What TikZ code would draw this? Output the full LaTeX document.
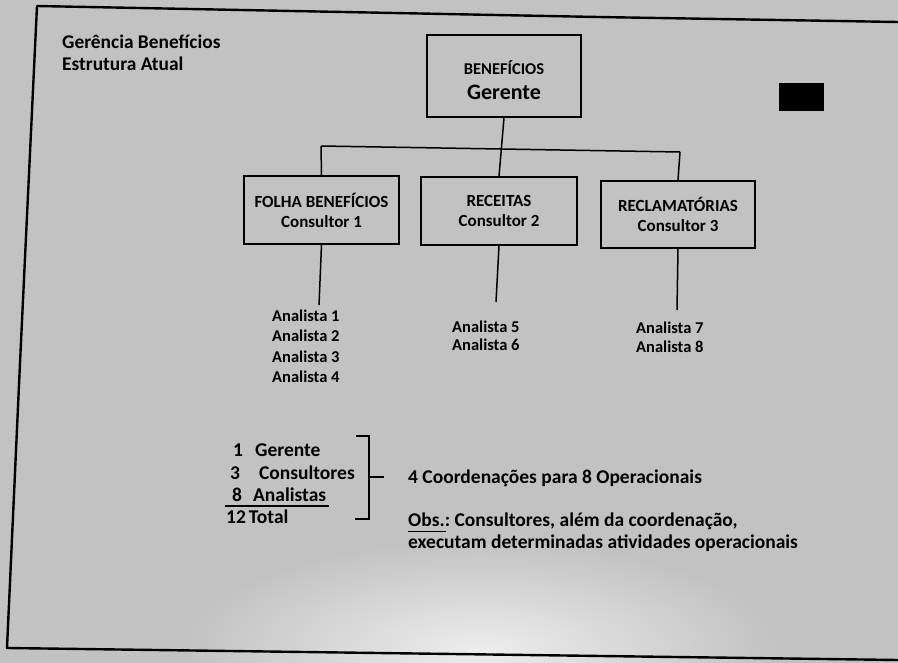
\documentclass[tikz,border=0pt]{standalone}
\usepackage{fontspec}
\setmainfont{Carlito}
\frenchspacing
\begin{document}
\begin{tikzpicture}[x=1pt,y=-1pt,
  frame/.style={line width=2.4pt, line join=round},
  box/.style={draw, line width=1.8pt, inner sep=0pt, align=center},
  conn/.style={line width=1.5pt},
  txt/.style={inner sep=0pt, anchor=west, font=\fontsize{19.5}{22}\selectfont\bfseries},
  ttl/.style={inner sep=0pt, anchor=west, font=\fontsize{19.4}{22}\selectfont\bfseries},
  ana/.style={inner sep=0pt, anchor=west, font=\fontsize{16.5}{20}\selectfont\bfseries},
  boxfont/.style={font=\fontsize{17}{20}\selectfont\bfseries}]
\useasboundingbox (0,0) rectangle (898,663);
\fill[black!24] (0,0) rectangle (898,663);
\begin{scope}
\clip (0,540) rectangle (898,663);
\shade[inner color=black!7, outer color=black!24] (480,650) ellipse [x radius=300pt, y radius=110pt];
\end{scope}
% outer frame (scanned, slightly skewed)
\draw[frame] (898,22) -- (598,17) -- (37,6) -- (20,363) -- (7,648) -- (898,660);
% title
\node[ttl] (t1) at (62,42) {Gerência Benefícios};
\node[ttl] (t2) at (62,64) {Estrutura Atual};
% manager box
\node[box, minimum width=154pt, minimum height=82pt] (g) at (504,76) {};
\node[inner sep=0pt, font=\fontsize{16.5}{18}\selectfont\bfseries] (gt1) at (504,68) {BENEFÍCIOS};
\node[inner sep=0pt, font=\fontsize{22}{24}\selectfont\bfseries] (gt2) at (504,92) {Gerente};
% black square
\node[fill=black, inner sep=0pt, minimum width=45pt, minimum height=28pt] (sq) at (801.5,97) {};
% consultant boxes
\node[box, boxfont, minimum width=155pt, minimum height=68pt] (b1) at (321.5,210) {FOLHA BENEFÍCIOS\\Consultor 1};
\node[box, boxfont, minimum width=156pt, minimum height=68pt] (b2) at (499,211) {RECEITAS\\Consultor 2};
\node[box, boxfont, minimum width=154pt, minimum height=67pt] (b3) at (678,214.5) {RECLAMATÓRIAS\\Consultor 3};
% connectors
\coordinate (hl) at (321,146);
\coordinate (hr) at (680,152);
\draw[conn] (hl) -- (hr);
\draw[conn] (g.south) -- (b2.north);
\draw[conn] (hl) -- (b1.north);
\draw[conn] (hr) -- (b3.north);
\coordinate (d1) at (319,305);
\coordinate (d2) at (496,302);
\coordinate (d3) at (677,310);
\draw[conn] (b1.south) -- (d1);
\draw[conn] (b2.south) -- (d2);
\draw[conn] (b3.south) -- (d3);
% analysts
\node[ana] (a1) at (272,316) {Analista 1};
\node[ana] (a2) at (272,336) {Analista 2};
\node[ana] (a3) at (272,357) {Analista 3};
\node[ana] (a4) at (272,377) {Analista 4};
\node[ana] (a5) at (452,327) {Analista 5};
\node[ana] (a6) at (452,345) {Analista 6};
\node[ana] (a7) at (636,328) {Analista 7};
\node[ana] (a8) at (636,347) {Analista 8};
% summary list
\node[txt] (s1) at (233,450) {1\hspace{12pt}Gerente};
\node[txt] (s2) at (230,473) {3\hspace{19pt}Consultores};
\node[txt] (s3) at (232,495) {8\hspace{11pt}Analistas};
\node[txt] (s4) at (226,517) {12\hspace{3pt}Total};
\coordinate (u1) at (225,506);
\coordinate (u2) at (329,506);
\draw[line width=1.2pt] (u1) -- (u2);
% bracket
\coordinate (k1) at (356,436);
\coordinate (k2) at (369,436);
\coordinate (k3) at (369,519);
\coordinate (k4) at (355,519);
\coordinate (km) at (369,477);
\coordinate (ke) at (384,477);
\draw[line width=1.2pt] (k1) -- (k2) -- (k3) -- (k4);
\draw[line width=1.2pt] (km) -- (ke);
% notes
\node[txt] (n1) at (408,478) {4 Coordenações para 8 Operacionais};
\node[txt] (n2) at (408,521) {Obs.: Consultores, além da coordenação,};
\node[txt] (n3) at (408,543) {executam determinadas atividades operacionais};
\coordinate (o1) at (408,531);
\coordinate (o2) at (446,531);
\draw[line width=0.8pt] (o1) -- (o2);
\end{tikzpicture}
\end{document}
